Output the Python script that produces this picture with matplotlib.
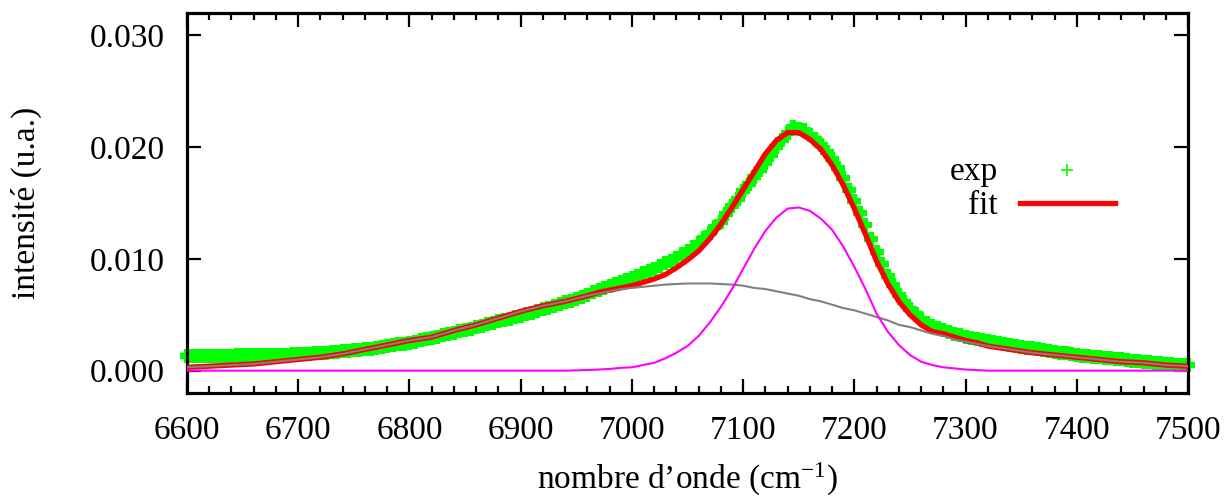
#!/usr/bin/env python3
"""Spectre d'absorption avec ajustement (deux composantes)."""

import matplotlib
matplotlib.use('Agg')
from matplotlib import pyplot as plt
from matplotlib.ticker import MultipleLocator
import numpy as np

plt.rcParams['font.family'] = ['Liberation Serif', 'DejaVu Serif']
plt.rcParams['mathtext.fontset'] = 'custom'
plt.rcParams['mathtext.rm'] = 'Liberation Serif'
plt.rcParams['mathtext.it'] = 'Liberation Serif:italic'

# experimental spectrum, one point every 5 cm-1 from 6600 to 7500
exp_start = 6600
exp_step = 5
exp_y = [
    0.00134, 0.00134, 0.00134, 0.00134, 0.00134, 0.00134, 0.00135, 0.00135, 0.00135, 0.00136,
    0.00136, 0.00137, 0.00137, 0.00138, 0.00139, 0.00140, 0.00141, 0.00142, 0.00144, 0.00145,
    0.00147, 0.00149, 0.00152, 0.00154, 0.00157, 0.00161, 0.00164, 0.00168, 0.00172, 0.00177,
    0.00182, 0.00187, 0.00192, 0.00198, 0.00205, 0.00211, 0.00218, 0.00226, 0.00234, 0.00242,
    0.00250, 0.00260, 0.00270, 0.00280, 0.00290, 0.00302, 0.00315, 0.00327, 0.00340, 0.00352,
    0.00365, 0.00377, 0.00390, 0.00402, 0.00415, 0.00427, 0.00440, 0.00452, 0.00465, 0.00477,
    0.00490, 0.00505, 0.00520, 0.00535, 0.00550, 0.00565, 0.00580, 0.00595, 0.00610, 0.00627,
    0.00645, 0.00662, 0.00680, 0.00700, 0.00720, 0.00740, 0.00760, 0.00777, 0.00795, 0.00812,
    0.00830, 0.00850, 0.00870, 0.00890, 0.00910, 0.00935, 0.00960, 0.00985, 0.01010, 0.01042,
    0.01075, 0.01107, 0.01140, 0.01187, 0.01235, 0.01282, 0.01330, 0.01400, 0.01470, 0.01540,
    0.01610, 0.01672, 0.01735, 0.01797, 0.01860, 0.01930, 0.02000, 0.02060, 0.02130, 0.02180,
    0.02165, 0.02150, 0.02110, 0.02070, 0.02020, 0.01960, 0.01890, 0.01810, 0.01720, 0.01620,
    0.01520, 0.01410, 0.01300, 0.01180, 0.01060, 0.00955, 0.00850, 0.00765, 0.00680, 0.00615,
    0.00550, 0.00505, 0.00460, 0.00430, 0.00400, 0.00380, 0.00360, 0.00345, 0.00330, 0.00315,
    0.00300, 0.00291, 0.00282, 0.00273, 0.00265, 0.00256, 0.00248, 0.00239, 0.00231, 0.00222,
    0.00215, 0.00207, 0.00200, 0.00192, 0.00185, 0.00177, 0.00170, 0.00162, 0.00155, 0.00147,
    0.00140, 0.00135, 0.00130, 0.00125, 0.00120, 0.00115, 0.00110, 0.00105, 0.00100, 0.00095,
    0.00090, 0.00085, 0.00080, 0.00075, 0.00070, 0.00065, 0.00060, 0.00057, 0.00055, 0.00052,
    0.00050,
]

# sampling of the fitted curves
fit_x = [
    6600, 6620, 6640, 6660, 6680, 6700, 6720, 6740, 6760, 6780,
    6800, 6820, 6840, 6860, 6880, 6900, 6920, 6940, 6960,
    6970, 6980, 6990, 7000, 7010, 7020, 7030, 7040, 7050, 7060,
    7070, 7080, 7090, 7100, 7110, 7120, 7130, 7140, 7150, 7160,
    7170, 7180, 7190, 7200, 7210, 7220, 7230, 7240, 7250, 7260,
    7270, 7280, 7290, 7300, 7310,
    7320, 7340, 7360, 7380, 7400, 7420, 7440, 7460, 7480, 7500,
]
fit_total = [
    0.0003, 0.0004, 0.0005, 0.0006, 0.0008, 0.0010, 0.0012, 0.0015, 0.0019, 0.0023,
    0.0027, 0.0030, 0.0036, 0.0041, 0.0047, 0.0053, 0.0058, 0.0062, 0.0067,
    0.0070, 0.0072, 0.0074, 0.0076, 0.0079, 0.0082, 0.0086, 0.0092, 0.0099, 0.0107,
    0.0118, 0.0131, 0.0146, 0.0162, 0.0178, 0.0194, 0.0206, 0.0213, 0.0213, 0.0207,
    0.0198, 0.0184, 0.0166, 0.0145, 0.0122, 0.0098, 0.0078, 0.0062, 0.0050, 0.0041,
    0.0035, 0.0033, 0.0030, 0.0027, 0.0025,
    0.0022, 0.0019, 0.0016, 0.0014, 0.0012, 0.0010, 0.0008, 0.0007, 0.0005, 0.0004,
]
fit_broad = [
    0.0003, 0.0004, 0.0005, 0.0006, 0.0008, 0.0010, 0.0012, 0.0015, 0.0019, 0.0023,
    0.0027, 0.0030, 0.0036, 0.0041, 0.0047, 0.0053, 0.0058, 0.0062, 0.0067,
    0.0069, 0.0071, 0.0073, 0.0074, 0.0075, 0.0076, 0.0077, 0.00775, 0.0078, 0.0078,
    0.0078, 0.00775, 0.0077, 0.0076, 0.0074, 0.0073, 0.0071, 0.0069, 0.0067, 0.0064,
    0.0062, 0.0059, 0.0056, 0.0054, 0.0051, 0.0048, 0.0045, 0.0041, 0.0039, 0.0036,
    0.0033, 0.0031, 0.0028, 0.0026, 0.0024,
    0.0022, 0.0019, 0.0016, 0.0014, 0.0012, 0.0010, 0.0008, 0.0007, 0.0005, 0.0004,
]
fit_narrow = [
    0.0, 0.0, 0.0, 0.0, 0.0, 0.0, 0.0, 0.0, 0.0, 0.0,
    0.0, 0.0, 0.0, 0.0, 0.0, 0.0, 0.0, 0.0, 0.00005,
    0.0001, 0.00015, 0.00025, 0.0003, 0.0005, 0.0007, 0.0011, 0.0016, 0.0022, 0.0031,
    0.0043, 0.0057, 0.0073, 0.0091, 0.0109, 0.0125, 0.0137, 0.0145, 0.0146, 0.0143,
    0.0136, 0.0126, 0.0111, 0.0093, 0.0073, 0.0051, 0.0035, 0.0023, 0.0014, 0.0008,
    0.0005, 0.0003, 0.0002, 0.0001, 0.00005,
    0.0, 0.0, 0.0, 0.0, 0.0, 0.0, 0.0, 0.0, 0.0, 0.0,
]

FONT_SIZE = 24


def main():
    fig = plt.figure(figsize=(12.25, 5.01), dpi=100)
    ax = fig.add_axes([187 / 1225, 1 - 393 / 501, 1001 / 1225, 380 / 501])

    exp_x = exp_start + exp_step * np.arange(len(exp_y))
    ax.plot(exp_x, exp_y, '+', color='#00ff00', ms=10, mew=4.5, clip_on=False, zorder=2)
    ax.plot(fit_x, fit_total, '-', color='#ff0000', lw=3.8, zorder=3)
    ax.plot(fit_x, fit_broad, '-', color='#808080', lw=1.5, zorder=4)
    ax.plot(fit_x, fit_narrow, '-', color='#ff00ff', lw=1.5, zorder=5)

    ax.set_xlim(6600, 7500)
    ax.set_ylim(-0.002, 0.032)
    ax.xaxis.set_major_locator(MultipleLocator(100))
    ax.xaxis.set_minor_locator(MultipleLocator(20))
    ax.set_yticks([0.0, 0.01, 0.02, 0.03])
    ax.set_yticklabels(['0.000', '0.010', '0.020', '0.030'])

    for spine in ax.spines.values():
        spine.set_linewidth(2.3)
    ax.tick_params(which='both', direction='in', top=True, right=True, width=1.6,
                   labelsize=FONT_SIZE)
    ax.tick_params(which='major', length=10)
    ax.tick_params(which='minor', length=5)
    ax.tick_params(axis='x', pad=16)
    ax.tick_params(axis='y', pad=16)

    ax.set_xlabel('nombre d\u2019onde (cm$^{-1}$)', fontsize=FONT_SIZE, labelpad=11)
    ax.set_ylabel('intensit\u00e9 (u.a.)', fontsize=FONT_SIZE, labelpad=34)

    # key, gnuplot style: right aligned text then sample
    ax.text(0.810, 0.5605, 'exp', transform=ax.transAxes, ha='right', va='baseline',
            fontsize=FONT_SIZE)
    ax.text(0.810, 0.471, 'fit', transform=ax.transAxes, ha='right', va='baseline',
            fontsize=FONT_SIZE)
    ax.plot([0.879], [0.587], '+', color='#00ff00', ms=9, mew=1.2, transform=ax.transAxes)
    ax.plot([0.832, 0.927], [0.50, 0.50], '-', color='#ff0000', lw=3.8,
            transform=ax.transAxes)

    fig.savefig('out.png', dpi=100)


if __name__ == '__main__':
    main()
